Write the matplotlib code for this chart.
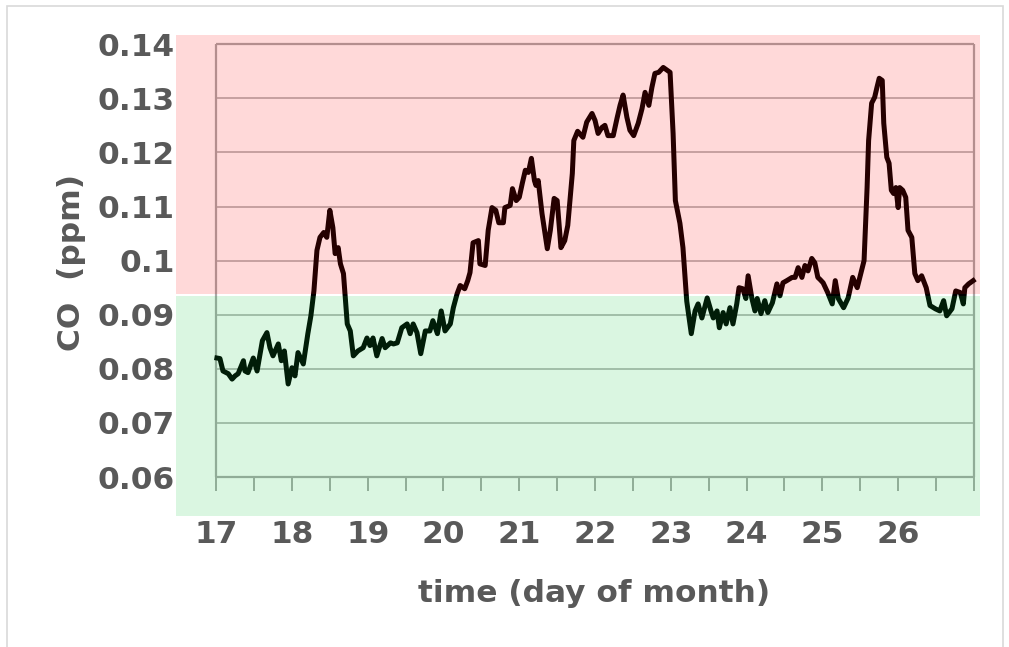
#!/usr/bin/env python3
import matplotlib
matplotlib.use("Agg")
import matplotlib.pyplot as plt
from matplotlib.patches import Rectangle

# CO record (day of month, ppm)
days = [17.01, 17.05, 17.09, 17.16, 17.21, 17.25, 17.29, 17.36, 17.38, 17.42,
        17.49, 17.54, 17.61, 17.67, 17.71, 17.75, 17.82, 17.86, 17.90, 17.95,
        18.00, 18.04, 18.08, 18.15, 18.17, 18.21, 18.25, 18.29, 18.33, 18.37,
        18.42, 18.46, 18.50, 18.54, 18.57, 18.61, 18.64, 18.68, 18.73, 18.77,
        18.81, 18.87, 18.94, 18.99, 19.03, 19.07, 19.12, 19.19, 19.23, 19.30,
        19.34, 19.39, 19.45, 19.52, 19.56, 19.60, 19.65, 19.70, 19.76, 19.82,
        19.86, 19.92, 19.97, 20.02, 20.09, 20.13, 20.18, 20.22, 20.28, 20.32,
        20.35, 20.39, 20.46, 20.48, 20.55, 20.59, 20.64, 20.69, 20.73, 20.79,
        20.81, 20.88, 20.91, 20.96, 21.00, 21.04, 21.08, 21.12, 21.16, 21.20,
        21.22, 21.25, 21.30, 21.37, 21.41, 21.46, 21.50, 21.55, 21.60, 21.64,
        21.70, 21.72, 21.77, 21.84, 21.89, 21.96, 22.00, 22.04, 22.09, 22.13,
        22.17, 22.24, 22.29, 22.33, 22.37, 22.42, 22.46, 22.51, 22.57, 22.62,
        22.66, 22.71, 22.75, 22.79, 22.84, 22.90, 22.95, 22.99, 23.03, 23.06,
        23.12, 23.16, 23.21, 23.27, 23.32, 23.36, 23.41, 23.48, 23.53, 23.56,
        23.61, 23.64, 23.69, 23.73, 23.78, 23.82, 23.87, 23.90, 23.95, 23.99,
        24.02, 24.07, 24.11, 24.14, 24.19, 24.24, 24.28, 24.34, 24.40, 24.44,
        24.48, 24.53, 24.60, 24.64, 24.68, 24.73, 24.77, 24.81, 24.86, 24.90,
        24.94, 24.97, 25.01, 25.07, 25.13, 25.17, 25.21, 25.28, 25.34, 25.40,
        25.46, 25.50, 25.55, 25.59, 25.61, 25.65, 25.69, 25.72, 25.75, 25.79,
        25.81, 25.85, 25.88, 25.91, 25.94, 25.97, 26.00, 26.02, 26.06, 26.10,
        26.13, 26.18, 26.22, 26.26, 26.31, 26.37, 26.42, 26.49, 26.55, 26.60,
        26.64, 26.71, 26.76, 26.82, 26.86, 26.88, 26.93, 26.99]

co = [0.0820, 0.0819, 0.0796, 0.0791, 0.0781, 0.0787, 0.0791, 0.0815, 0.0796, 0.0793,
      0.0820, 0.0796, 0.0852, 0.0867, 0.0839, 0.0824, 0.0846, 0.0815, 0.0833, 0.0772,
      0.0802, 0.0787, 0.0830, 0.0809, 0.0828, 0.0865, 0.0898, 0.0944, 0.1019, 0.1043,
      0.1052, 0.1043, 0.1093, 0.1061, 0.1013, 0.1024, 0.0994, 0.0976, 0.0883, 0.0870,
      0.0824, 0.0833, 0.0839, 0.0857, 0.0843, 0.0857, 0.0824, 0.0856, 0.0839, 0.0848,
      0.0846, 0.0848, 0.0876, 0.0883, 0.0865, 0.0883, 0.0867, 0.0828, 0.0870, 0.0870,
      0.0889, 0.0865, 0.0907, 0.0870, 0.0883, 0.0913, 0.0939, 0.0954, 0.0948, 0.0963,
      0.0978, 0.1033, 0.1037, 0.0994, 0.0991, 0.1056, 0.1098, 0.1093, 0.1070, 0.1070,
      0.1098, 0.1102, 0.1133, 0.1111, 0.1117, 0.1143, 0.1167, 0.1163, 0.1189, 0.1148,
      0.1139, 0.1148, 0.1087, 0.1022, 0.1056, 0.1115, 0.1111, 0.1024, 0.1037, 0.1065,
      0.1161, 0.1222, 0.1239, 0.1228, 0.1256, 0.1272, 0.1259, 0.1235, 0.1246, 0.1250,
      0.1231, 0.1231, 0.1263, 0.1287, 0.1306, 0.1265, 0.1241, 0.1231, 0.1254, 0.1281,
      0.1311, 0.1287, 0.1320, 0.1346, 0.1348, 0.1357, 0.1352, 0.1348, 0.1235, 0.1111,
      0.1069, 0.1024, 0.0925, 0.0865, 0.0907, 0.0920, 0.0894, 0.0931, 0.0907, 0.0894,
      0.0907, 0.0876, 0.0904, 0.0883, 0.0913, 0.0883, 0.0920, 0.0950, 0.0948, 0.0930,
      0.0972, 0.0930, 0.0907, 0.0930, 0.0902, 0.0926, 0.0904, 0.0922, 0.0957, 0.0935,
      0.0959, 0.0963, 0.0969, 0.0969, 0.0987, 0.0969, 0.0991, 0.0981, 0.1004, 0.0996,
      0.0969, 0.0965, 0.0959, 0.0941, 0.0920, 0.0963, 0.0930, 0.0913, 0.0931, 0.0969,
      0.0950, 0.0972, 0.1000, 0.1135, 0.1222, 0.1291, 0.1302, 0.1320, 0.1337, 0.1333,
      0.1254, 0.1191, 0.1180, 0.1130, 0.1124, 0.1135, 0.1098, 0.1135, 0.1130, 0.1117,
      0.1056, 0.1043, 0.0976, 0.0963, 0.0972, 0.0950, 0.0917, 0.0911, 0.0907, 0.0926,
      0.0898, 0.0911, 0.0944, 0.0941, 0.0920, 0.0950, 0.0957, 0.0963]

day_ticks = list(range(17, 27))
half_ticks = [17 + 0.5 * i for i in range(21)]
co_ticks = [0.06, 0.07, 0.08, 0.09, 0.10, 0.11, 0.12, 0.13, 0.14]
co_labels = ["0.06", "0.07", "0.08", "0.09", "0.1", "0.11", "0.12", "0.13", "0.14"]
threshold = 0.0937

txt = "#595959"
plt.rcParams["font.family"] = ["DejaVu Sans"]
plt.rcParams["font.weight"] = "bold"

fig = plt.figure(figsize=(10.09, 6.47), dpi=100)
ax = fig.add_axes([176 / 1009, 1 - 516 / 647, (980 - 176) / 1009, (516 - 35) / 647])
ax.set_xlim(16.47, 27.08)
ax.set_ylim(0.0528, 0.1417)
for s in ax.spines.values():
    s.set_visible(False)

# grid, frame and tick marks (drawn under the tinted zones)
ax.hlines(co_ticks[1:-1], 17, 27, color="#BDBDBD", lw=1.4, zorder=1)
ax.hlines([0.06, 0.14], 17, 27, color="#A8A8A8", lw=1.6, zorder=1)
ax.vlines([17, 27], 0.06, 0.14, color="#A8A8A8", lw=1.6, zorder=1)
ax.vlines(half_ticks, 0.0574, 0.06, color="#A8A8A8", lw=1.4, zorder=1)

ax.plot(days, co, color="black", lw=3.6, solid_joinstyle="round", zorder=2)

# tinted zones on top, so the line and grid pick up the tint
ax.axhspan(threshold + 0.00015, 0.1417, color=(1.0, 0.0, 0.0), alpha=0.15, lw=0, zorder=3)
ax.axhspan(0.0528, threshold - 0.00015, color=(8 / 255, 201 / 255, 55 / 255), alpha=0.15, lw=0, zorder=3)

ax.set_xticks(day_ticks)
ax.set_xticklabels([str(d) for d in day_ticks])
ax.set_yticks(co_ticks)
ax.set_yticklabels(co_labels)
ax.tick_params(axis="both", length=0, labelsize=22.5, labelcolor=txt)
ax.tick_params(axis="x", pad=3)
ax.tick_params(axis="y", pad=1)

fig.text(72 / 1009, 1 - 262 / 647, "CO  (ppm)", rotation=90, ha="center", va="center",
         fontsize=22.5, fontweight="bold", color=txt)
fig.text(594 / 1009, 1 - 593 / 647, "time (day of month)", ha="center", va="center",
         fontsize=22.5, fontweight="bold", color=txt)

# light chart-area border
fig.patches.append(Rectangle((7 / 1009, -0.01), (1003 - 7) / 1009, 1 - 6 / 647 + 0.01,
                             transform=fig.transFigure, fill=False, ec="#D9D9D9", lw=1.2))

fig.savefig("out.png", dpi=100)
